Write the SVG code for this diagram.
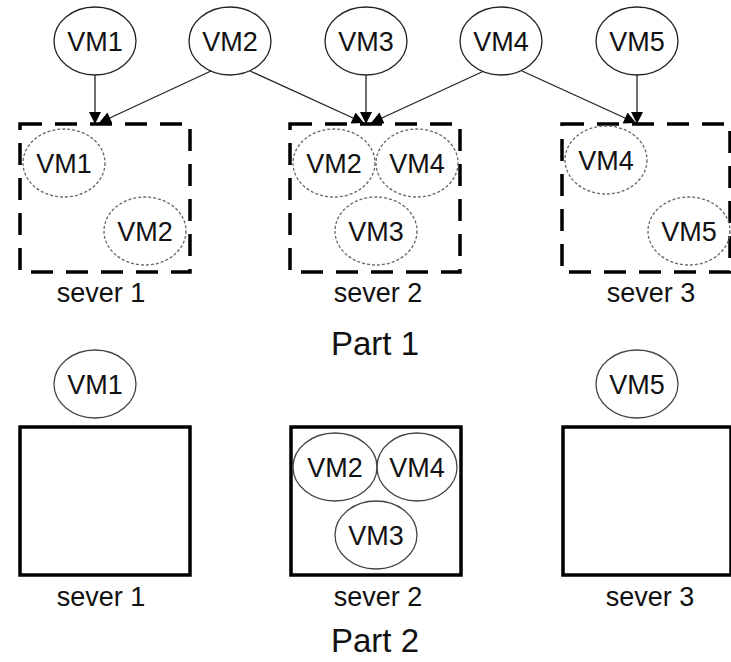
<svg xmlns="http://www.w3.org/2000/svg" width="731" height="662" viewBox="0 0 731 662">
<style>
text{font-family:"Liberation Sans",Arial,sans-serif;fill:#111;text-anchor:middle}
.vm{font-size:27px}
.lbl{font-size:27px}
.part{font-size:33px}
.top{fill:#fff;stroke:#222;stroke-width:1.3}
.inner{fill:none;stroke:#666;stroke-width:1.3;stroke-dasharray:3 2}
.solid{fill:none;stroke:#444;stroke-width:1.3}
.dbox{fill:none;stroke:#000;stroke-width:3.5;stroke-dasharray:22 13}
.box{fill:none;stroke:#000;stroke-width:3.5}
.conn line{stroke:#222;stroke-width:1.3}
</style>
<defs>
<marker id="ah" viewBox="0 0 10 10" refX="10" refY="5" markerWidth="14" markerHeight="12" markerUnits="userSpaceOnUse" orient="auto">
<path d="M0,0 L10,5 L0,10 z" fill="#000"/>
</marker>
</defs>

<g id="connectors" class="conn">
<line x1="95" y1="75" x2="95" y2="124" marker-end="url(#ah)"/>
<line x1="211" y1="71" x2="99" y2="123" marker-end="url(#ah)"/>
<line x1="250" y1="71" x2="364" y2="123" marker-end="url(#ah)"/>
<line x1="366" y1="75" x2="366" y2="124" marker-end="url(#ah)"/>
<line x1="484" y1="71" x2="371" y2="123" marker-end="url(#ah)"/>
<line x1="522" y1="71" x2="636" y2="123" marker-end="url(#ah)"/>
<line x1="637" y1="75" x2="637" y2="124" marker-end="url(#ah)"/>
</g>

<g id="vm1-top"><ellipse class="top" cx="95" cy="41" rx="41" ry="34"/><text class="vm" x="95" y="51">VM1</text></g>
<g id="vm2-top"><ellipse class="top" cx="230" cy="41" rx="41" ry="34"/><text class="vm" x="230" y="51">VM2</text></g>
<g id="vm3-top"><ellipse class="top" cx="366" cy="41" rx="41" ry="34"/><text class="vm" x="366" y="51">VM3</text></g>
<g id="vm4-top"><ellipse class="top" cx="501" cy="41" rx="41" ry="34"/><text class="vm" x="501" y="51">VM4</text></g>
<g id="vm5-top"><ellipse class="top" cx="637" cy="41" rx="41" ry="34"/><text class="vm" x="637" y="51">VM5</text></g>

<g id="p1-server1">
<rect class="dbox" x="20" y="124" width="170" height="148"/>
<ellipse class="inner" cx="64" cy="163" rx="41" ry="34"/><text class="vm" x="64" y="173">VM1</text>
<ellipse class="inner" cx="145" cy="231" rx="41" ry="34"/><text class="vm" x="145" y="241">VM2</text>
<text class="lbl" x="101" y="302">sever 1</text>
</g>
<g id="p1-server2">
<rect class="dbox" x="290" y="124" width="170" height="148"/>
<ellipse class="inner" cx="334" cy="163" rx="41" ry="34"/><text class="vm" x="334" y="173">VM2</text>
<ellipse class="inner" cx="417" cy="163" rx="41" ry="34"/><text class="vm" x="417" y="173">VM4</text>
<ellipse class="inner" cx="376" cy="231" rx="41" ry="34"/><text class="vm" x="376" y="241">VM3</text>
<text class="lbl" x="378" y="302">sever 2</text>
</g>
<g id="p1-server3">
<rect class="dbox" x="562" y="124" width="168" height="148"/>
<ellipse class="inner" cx="606" cy="160" rx="41" ry="34"/><text class="vm" x="606" y="170">VM4</text>
<ellipse class="inner" cx="689" cy="231" rx="41" ry="34"/><text class="vm" x="689" y="241">VM5</text>
<text class="lbl" x="651" y="302">sever 3</text>
</g>

<g id="part1-title"><text class="part" x="375" y="355">Part 1</text></g>

<g id="vm1-p2"><ellipse class="solid" cx="95" cy="384" rx="41" ry="34"/><text class="vm" x="95" y="394">VM1</text></g>
<g id="vm5-p2"><ellipse class="solid" cx="637" cy="384" rx="41" ry="34"/><text class="vm" x="637" y="394">VM5</text></g>

<g id="p2-server1">
<rect class="box" x="20" y="427" width="170" height="148"/>
<text class="lbl" x="101" y="606">sever 1</text>
</g>
<g id="p2-server2">
<rect class="box" x="291" y="427" width="170" height="148"/>
<ellipse class="solid" cx="335" cy="467" rx="42" ry="34"/><text class="vm" x="335" y="477">VM2</text>
<ellipse class="solid" cx="417" cy="467" rx="40" ry="34"/><text class="vm" x="417" y="477">VM4</text>
<ellipse class="solid" cx="376" cy="535" rx="41" ry="34"/><text class="vm" x="376" y="545">VM3</text>
<text class="lbl" x="378" y="606">sever 2</text>
</g>
<g id="p2-server3">
<rect class="box" x="563" y="427" width="168" height="148"/>
<text class="lbl" x="650" y="606">sever 3</text>
</g>

<g id="part2-title"><text class="part" x="375" y="652">Part 2</text></g>
</svg>
